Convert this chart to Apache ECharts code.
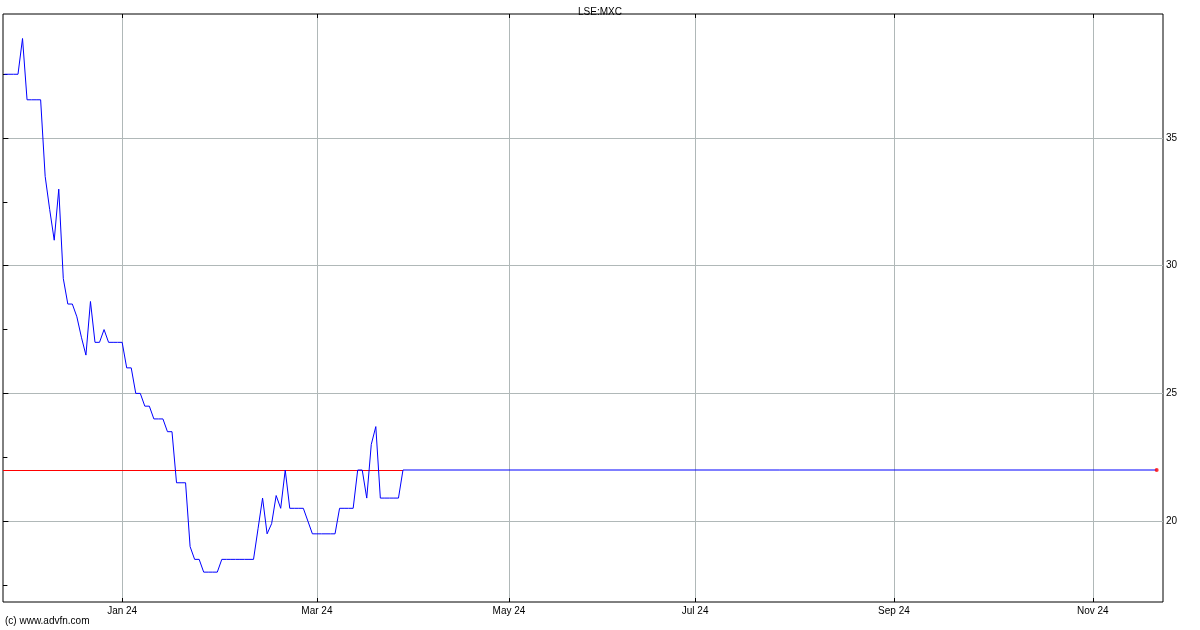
<!DOCTYPE html>
<html><head><meta charset="utf-8">
<script src="https://cdn.jsdelivr.net/npm/echarts@6/dist/echarts.min.js"></script>
<style>html,body{margin:0;padding:0;background:#fff}#c{width:1200px;height:630px}</style>
</head><body><div id="c"></div>
<script>
// ---- data (x = trading-day index from the left of the window) ----
const chartTitle = 'LSE:MXC';
const credit = '(c) www.advfn.com';
const prices = [
  37.5,37.5,37.5,37.5, 38.9, 36.5,36.5,36.5,36.5, 33.5, 32.2, 31.0, 33.0, 29.5,
  28.5, 28.5, 28.0, 27.2, 26.5, 28.6, 27.0, 27.0, 27.5, 27.0,27.0,27.0,27.0,
  26.0,26.0, 25.0,25.0, 24.5,24.5, 24.0,24.0,24.0, 23.5,23.5, 21.5,21.5,21.5,
  19.0, 18.5,18.5, 18.0,18.0,18.0,18.0, 18.5,18.5,18.5,18.5,18.5,18.5,18.5,18.5,
  19.7, 20.9, 19.5, 19.9, 21.0, 20.5, 22.0, 20.5,20.5,20.5,20.5, 20.0,
  19.5,19.5,19.5,19.5,19.5,19.5, 20.5,20.5,20.5,20.5, 22.0,22.0, 20.9, 23.0, 23.7,
  20.9,20.9,20.9,20.9,20.9, 22.0
];
const lastPrice = 22.0;
const lastIndex = 254.4;            // where the carried-forward price ends (red dot)
const monthTickIdx = [26.0, 69.0, 111.4, 152.5, 196.4, 240.3];
const monthLabels = ['Jan 24', 'Mar 24', 'May 24', 'Jul 24', 'Sep 24', 'Nov 24'];
const yLabelValues = [20, 25, 30, 35];
const yMinorValues = [17.5, 22.5, 27.5, 32.5, 37.5];
const yAllTicks = [17.5, 20, 22.5, 25, 27.5, 30, 32.5, 35, 37.5];
const xMin = -0.31, xMax = 255.8;
const yMin = 16.83, yMax = 39.86;

const lineData = prices.map((v, i) => [i, v]).concat([[lastIndex, lastPrice]]);

const chart = echarts.init(document.getElementById('c'), null, {renderer: 'canvas'});
const font = {fontFamily: 'Liberation Sans, Arial, sans-serif', fontSize: 10, color: '#000'};
const gridColor = '#b0b8b8';

chart.setOption({
  animation: false,
  backgroundColor: '#fff',
  title: {
    text: chartTitle, left: 'center', top: 2,
    textStyle: Object.assign({fontWeight: 'normal'}, font)
  },
  graphic: [{
    type: 'text', left: 5, top: 616,
    style: {text: credit, font: '10px Liberation Sans, Arial, sans-serif', fill: '#000'}
  }],
  grid: {left: 3, right: 37, top: 14, bottom: 28, show: true, borderColor: '#000', borderWidth: 1, backgroundColor: 'transparent'},
  xAxis: [{
    type: 'value', min: xMin, max: xMax, position: 'bottom',
    axisLine: {show: false},
    axisTick: {show: true, inside: true, length: 4, customValues: monthTickIdx, lineStyle: {color: '#000'}},
    axisLabel: {
      customValues: monthTickIdx, margin: 4, ...font,
      formatter: v => {
        let k = 0, d = Infinity;
        monthTickIdx.forEach((m, i) => { if (Math.abs(m - v) < d) { d = Math.abs(m - v); k = i; } });
        return monthLabels[k];
      }
    },
    splitLine: {show: true, lineStyle: {color: gridColor, width: 1}}
  }, {
    type: 'value', min: xMin, max: xMax, position: 'top',
    axisLine: {show: false},
    axisTick: {show: true, inside: true, length: 4, customValues: monthTickIdx, lineStyle: {color: '#000'}},
    axisLabel: {show: false},
    splitLine: {show: false}
  }],
  yAxis: [{
    type: 'value', min: yMin, max: yMax, position: 'right',
    axisLine: {show: false},
    axisTick: {show: true, inside: false, length: 4, customValues: yLabelValues, lineStyle: {color: '#000'}},
    axisLabel: {customValues: yLabelValues, margin: 3, ...font},
    splitLine: {show: true, lineStyle: {color: gridColor, width: 1}}
  }, {
    type: 'value', min: yMin, max: yMax, position: 'right',
    axisLine: {show: false},
    axisTick: {show: true, inside: false, length: 3, customValues: yMinorValues, lineStyle: {color: '#000'}},
    axisLabel: {show: false},
    splitLine: {show: false}
  }, {
    type: 'value', min: yMin, max: yMax, position: 'left',
    axisLine: {show: false},
    axisTick: {show: true, inside: true, length: 3, customValues: yAllTicks, lineStyle: {color: '#000'}},
    axisLabel: {show: false},
    splitLine: {show: false}
  }],
  series: [{
    type: 'line', xAxisIndex: 0, yAxisIndex: 0, data: [], z: 1, silent: true,
    markLine: {
      z: 1, silent: true, symbol: 'none', label: {show: false},
      lineStyle: {color: '#ff0000', width: 1, type: 'solid'},
      data: [[{coord: [xMin, lastPrice]}, {coord: [prices.length - 1, lastPrice]}]]
    }
  }, {
    type: 'line', xAxisIndex: 0, yAxisIndex: 0, data: lineData, z: 3,
    showSymbol: false, symbol: 'none',
    lineStyle: {color: '#0000ff', width: 1},
    silent: true
  }, {
    type: 'scatter', xAxisIndex: 0, yAxisIndex: 0, data: [[lastIndex, lastPrice]], z: 5,
    symbolSize: 4, itemStyle: {color: '#ff0000'}, silent: true
  }]
});
</script>
</body></html>
